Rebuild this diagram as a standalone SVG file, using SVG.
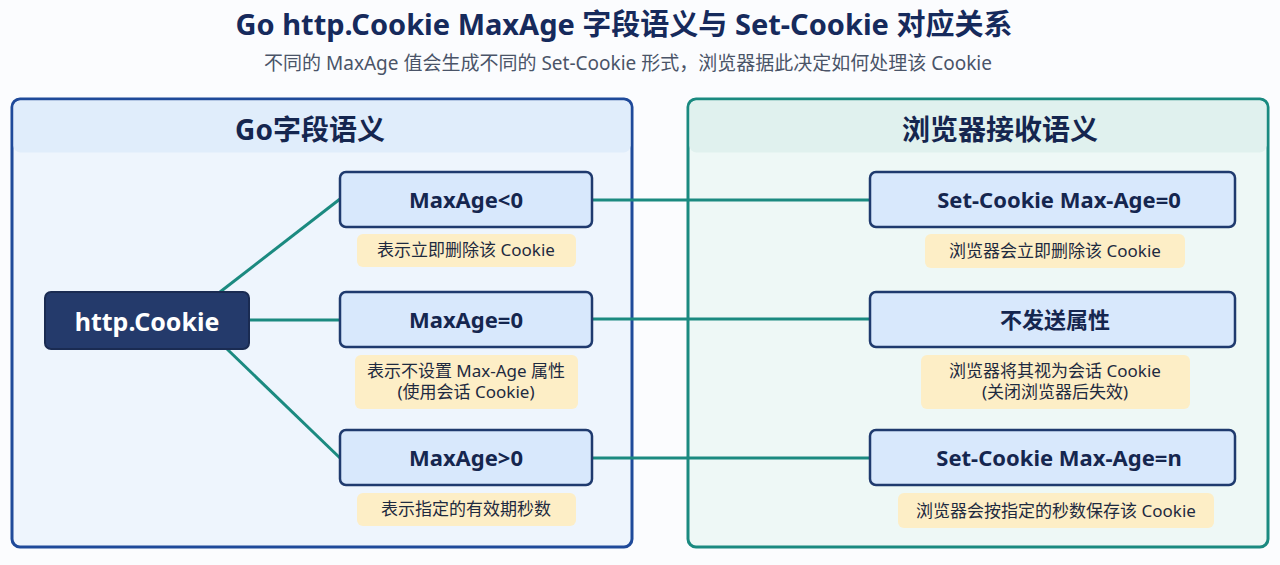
<svg xmlns="http://www.w3.org/2000/svg" width="1280" height="565" viewBox="0 0 1280 565">
<defs><style>
.t{font-family:"Noto Sans","Noto Sans CJK SC",sans-serif}
.node{fill:#d8e8fc;stroke:#1f3a6e;stroke-width:2.5}
.note{fill:#fdeec6}
.nt{font-family:"Noto Sans","Noto Sans CJK SC",sans-serif;font-size:22px;font-weight:bold;fill:#15264f;text-anchor:middle}
.ns{font-family:"Noto Sans","Noto Sans CJK SC",sans-serif;font-size:17px;fill:#1e2a40;text-anchor:middle}
.c{stroke:#1b8a80;stroke-width:3;fill:none}
</style></defs>
<rect width="1280" height="565" fill="#fbfcfe"/>
<text class="t" x="624" y="35" font-size="29" font-weight="bold" fill="#162a5c" text-anchor="middle">Go http.Cookie MaxAge 字段语义与 Set-Cookie 对应关系</text>
<text class="t" x="628" y="70" font-size="19" fill="#4a5468" text-anchor="middle">不同的 MaxAge 值会生成不同的 Set-Cookie 形式，浏览器据此决定如何处理该 Cookie</text>
<g id="left-panel">
<rect x="12" y="99" width="620" height="448" rx="8" fill="#eef5fd" stroke="#1f4a9a" stroke-width="3"/>
<rect x="13.5" y="100.5" width="617" height="52" rx="7" fill="#e0edfb"/>
<text class="t" x="310" y="140" font-size="28" font-weight="bold" fill="#15264f" text-anchor="middle">Go字段语义</text>
</g>
<g id="right-panel">
<rect x="688" y="99" width="580" height="448" rx="8" fill="#eef8f6" stroke="#1a8a80" stroke-width="3"/>
<rect x="689.5" y="100.5" width="577" height="52" rx="7" fill="#e0f1ee"/>
<text class="t" x="1000" y="140" font-size="28" font-weight="bold" fill="#15264f" text-anchor="middle">浏览器接收语义</text>
</g>
<g id="connectors">
<line class="c" x1="220" y1="292" x2="340" y2="199"/>
<line class="c" x1="249" y1="320" x2="340" y2="320"/>
<line class="c" x1="227" y1="349" x2="340" y2="458"/>
<line class="c" x1="592" y1="200" x2="870" y2="200"/>
<line class="c" x1="592" y1="319" x2="870" y2="319"/>
<line class="c" x1="592" y1="458" x2="870" y2="458"/>
</g>
<g id="http-cookie"><rect x="45" y="292" width="204" height="57" rx="6" fill="#243a6b" stroke="#1a2b52" stroke-width="2"/><text class="t" x="147" y="331" font-size="25" font-weight="bold" fill="#fff" text-anchor="middle">http.Cookie</text></g>
<g id="maxage-neg"><rect class="node" x="340" y="172" width="252" height="55" rx="6"/><text class="nt" x="466" y="208">MaxAge&lt;0</text></g>
<g id="note-neg"><rect class="note" x="357" y="234" width="219" height="33" rx="6"/><text class="ns" x="466" y="256">表示立即删除该 Cookie</text></g>
<g id="maxage-zero"><rect class="node" x="340" y="292" width="252" height="55" rx="6"/><text class="nt" x="466" y="328">MaxAge=0</text></g>
<g id="note-zero"><rect class="note" x="355" y="355" width="223" height="54" rx="6"/><text class="ns" x="466" y="377">表示不设置 Max-Age 属性</text><text class="ns" x="466" y="398">(使用会话 Cookie)</text></g>
<g id="maxage-pos"><rect class="node" x="340" y="430" width="252" height="55" rx="6"/><text class="nt" x="466" y="466">MaxAge&gt;0</text></g>
<g id="note-pos"><rect class="note" x="357" y="493" width="219" height="33" rx="6"/><text class="ns" x="466" y="515">表示指定的有效期秒数</text></g>
<g id="set-zero"><rect class="node" x="870" y="172" width="365" height="55" rx="6"/><text class="nt" x="1059" y="208">Set-Cookie Max-Age=0</text></g>
<g id="note-del"><rect class="note" x="925" y="234" width="260" height="34" rx="6"/><text class="ns" x="1055" y="257">浏览器会立即删除该 Cookie</text></g>
<g id="no-attr"><rect class="node" x="870" y="292" width="365" height="55" rx="6"/><text class="nt" x="1055" y="328">不发送属性</text></g>
<g id="note-session"><rect class="note" x="921" y="355" width="269" height="54" rx="6"/><text class="ns" x="1055" y="377">浏览器将其视为会话 Cookie</text><text class="ns" x="1055" y="398">(关闭浏览器后失效)</text></g>
<g id="set-n"><rect class="node" x="870" y="430" width="365" height="55" rx="6"/><text class="nt" x="1059" y="466">Set-Cookie Max-Age=n</text></g>
<g id="note-keep"><rect class="note" x="898" y="493" width="316" height="35" rx="6"/><text class="ns" x="1056" y="517">浏览器会按指定的秒数保存该 Cookie</text></g>
</svg>
